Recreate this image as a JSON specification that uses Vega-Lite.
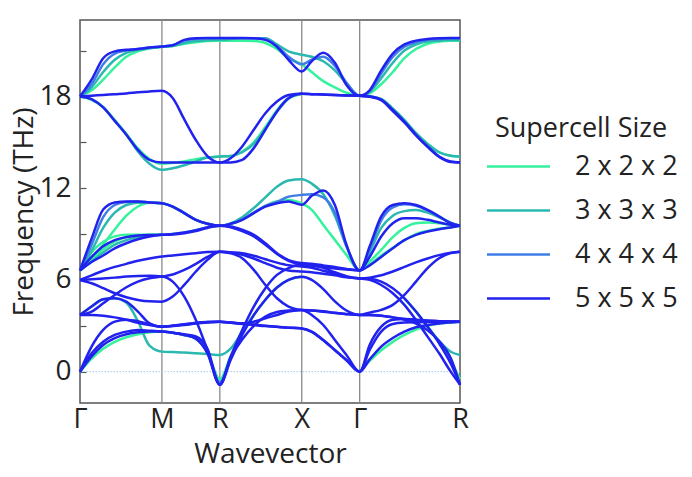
{
"$schema":"https://vega.github.io/schema/vega-lite/v6.json",
"width":380,"height":383,
"autosize":{"type":"none"},
"padding":{"left":80,"top":20,"right":232,"bottom":74},
"background":"white",
"config":{"font":"Open Sans","view":{"stroke":"#555","strokeWidth":1.5}},
"layer":[
{"data":{"values":[{"v":0.707},{"v":1.207},{"v":1.914},{"v":2.414}]},
"mark":{"type":"rule","color":"#8a8a8a","strokeWidth":1.3},
"encoding":{"x":{"field":"v","type":"quantitative","scale":{"domain":[0,3.28],"nice":false,"zero":false},
"axis":{"title":"Wavevector","values":[0,0.707,1.207,1.914,2.414,3.28],"labelExpr":"datum.value < 0.3 ? 'Γ' : datum.value < 1 ? 'M' : datum.value < 1.5 ? 'R' : datum.value < 2 ? 'X' : datum.value < 3 ? 'Γ' : 'R'","ticks":false,"domain":false,"grid":false,"labelFontSize":27,"labelFont":"Open Sans","labelColor":"#222","labelPadding":3,"labelFlush":false,"labelOverlap":false,"labelBound":false,"titleFontSize":28,"titleFont":"Open Sans","titleFontWeight":"normal","titleColor":"#222","titlePadding":8}}}},
{"data":{"values":[{}]},
"mark":{"type":"rule","color":"#9fcdf0","strokeDash":[1.5,1.5],"strokeWidth":1},
"encoding":{"y":{"datum":0,"type":"quantitative"}}},
{"data":{"values":[
{"s":"2","b":"T1","k":0,"f":18},{"s":"2","b":"T1","k":0.1,"f":18.4},{"s":"2","b":"T1","k":0.2,"f":19.1},{"s":"2","b":"T1","k":0.3,"f":19.9},{"s":"2","b":"T1","k":0.4,"f":20.6},{"s":"2","b":"T1","k":0.5,"f":20.95},{"s":"2","b":"T1","k":0.6,"f":21.15},{"s":"2","b":"T1","k":0.707,"f":21.25},{"s":"2","b":"T1","k":0.8,"f":21.3},{"s":"2","b":"T1","k":0.9,"f":21.45},{"s":"2","b":"T1","k":1,"f":21.55},{"s":"2","b":"T1","k":1.1,"f":21.62},{"s":"2","b":"T1","k":1.207,"f":21.65},{"s":"2","b":"T1","k":1.3,"f":21.65},{"s":"2","b":"T1","k":1.4,"f":21.65},{"s":"2","b":"T1","k":1.5,"f":21.62},{"s":"2","b":"T1","k":1.6,"f":21.5},{"s":"2","b":"T1","k":1.7,"f":21.1},{"s":"2","b":"T1","k":1.8,"f":20.5},{"s":"2","b":"T1","k":1.914,"f":20.1},{"s":"2","b":"T1","k":2,"f":19.6},{"s":"2","b":"T1","k":2.1,"f":19},{"s":"2","b":"T1","k":2.2,"f":18.6},{"s":"2","b":"T1","k":2.3,"f":18.25},{"s":"2","b":"T1","k":2.414,"f":18.04},{"s":"2","b":"T1","k":2.5,"f":18.2},{"s":"2","b":"T1","k":2.6,"f":18.8},{"s":"2","b":"T1","k":2.7,"f":19.6},{"s":"2","b":"T1","k":2.8,"f":20.5},{"s":"2","b":"T1","k":2.9,"f":21.1},{"s":"2","b":"T1","k":3,"f":21.45},{"s":"2","b":"T1","k":3.1,"f":21.6},{"s":"2","b":"T1","k":3.2,"f":21.65},{"s":"2","b":"T1","k":3.28,"f":21.65},
{"s":"2","b":"T3","k":0,"f":18},{"s":"2","b":"T3","k":0.1,"f":17.8},{"s":"2","b":"T3","k":0.2,"f":17.3},{"s":"2","b":"T3","k":0.3,"f":16.45},{"s":"2","b":"T3","k":0.4,"f":15.55},{"s":"2","b":"T3","k":0.5,"f":14.6},{"s":"2","b":"T3","k":0.6,"f":13.9},{"s":"2","b":"T3","k":0.707,"f":13.6},{"s":"2","b":"T3","k":0.8,"f":13.65},{"s":"2","b":"T3","k":0.9,"f":13.75},{"s":"2","b":"T3","k":1,"f":13.9},{"s":"2","b":"T3","k":1.1,"f":14},{"s":"2","b":"T3","k":1.207,"f":14.07},{"s":"2","b":"T3","k":1.3,"f":14.1},{"s":"2","b":"T3","k":1.4,"f":14.4},{"s":"2","b":"T3","k":1.5,"f":15},{"s":"2","b":"T3","k":1.6,"f":16},{"s":"2","b":"T3","k":1.7,"f":17.1},{"s":"2","b":"T3","k":1.8,"f":17.9},{"s":"2","b":"T3","k":1.914,"f":18.17},
{"s":"2","b":"T2","k":2.414,"f":18.04},{"s":"2","b":"T2","k":2.5,"f":18},{"s":"2","b":"T2","k":2.6,"f":17.82},{"s":"2","b":"T2","k":2.7,"f":17.2},{"s":"2","b":"T2","k":2.8,"f":16.45},{"s":"2","b":"T2","k":2.9,"f":15.6},{"s":"2","b":"T2","k":3,"f":14.9},{"s":"2","b":"T2","k":3.1,"f":14.35},{"s":"2","b":"T2","k":3.2,"f":14.12},{"s":"2","b":"T2","k":3.28,"f":14.07},
{"s":"2","b":"A","k":0,"f":6.62},{"s":"2","b":"A","k":0.1,"f":7.3},{"s":"2","b":"A","k":0.2,"f":8.3},{"s":"2","b":"A","k":0.3,"f":9.3},{"s":"2","b":"A","k":0.4,"f":10.2},{"s":"2","b":"A","k":0.5,"f":10.8},{"s":"2","b":"A","k":0.6,"f":11.05},{"s":"2","b":"A","k":0.707,"f":11.02},{"s":"2","b":"A","k":0.8,"f":10.8},{"s":"2","b":"A","k":0.9,"f":10.37},{"s":"2","b":"A","k":1,"f":9.93},{"s":"2","b":"A","k":1.1,"f":9.67},{"s":"2","b":"A","k":1.207,"f":9.54},{"s":"2","b":"A","k":1.3,"f":9.65},{"s":"2","b":"A","k":1.4,"f":9.95},{"s":"2","b":"A","k":1.5,"f":10.4},{"s":"2","b":"A","k":1.6,"f":10.85},{"s":"2","b":"A","k":1.7,"f":11.15},{"s":"2","b":"A","k":1.8,"f":11.23},{"s":"2","b":"A","k":1.914,"f":11},{"s":"2","b":"A","k":2,"f":10.58},{"s":"2","b":"A","k":2.1,"f":9.6},{"s":"2","b":"A","k":2.2,"f":8.62},{"s":"2","b":"A","k":2.3,"f":7.64},{"s":"2","b":"A","k":2.414,"f":6.62},{"s":"2","b":"A","k":2.5,"f":7.2},{"s":"2","b":"A","k":2.6,"f":7.96},{"s":"2","b":"A","k":2.7,"f":8.8},{"s":"2","b":"A","k":2.8,"f":9.4},{"s":"2","b":"A","k":2.9,"f":9.71},{"s":"2","b":"A","k":3,"f":9.75},{"s":"2","b":"A","k":3.1,"f":9.71},{"s":"2","b":"A","k":3.2,"f":9.6},{"s":"2","b":"A","k":3.28,"f":9.54},
{"s":"2","b":"B1","k":0,"f":6.62},{"s":"2","b":"B1","k":0.1,"f":7.8},{"s":"2","b":"B1","k":0.2,"f":8.5},{"s":"2","b":"B1","k":0.3,"f":8.85},{"s":"2","b":"B1","k":0.4,"f":8.95},{"s":"2","b":"B1","k":0.5,"f":8.95},{"s":"2","b":"B1","k":0.6,"f":8.95},{"s":"2","b":"B1","k":0.707,"f":8.95},{"s":"2","b":"B1","k":0.8,"f":9},{"s":"2","b":"B1","k":0.9,"f":9.1},{"s":"2","b":"B1","k":1,"f":9.25},{"s":"2","b":"B1","k":1.1,"f":9.45},{"s":"2","b":"B1","k":1.207,"f":9.54},
{"s":"2","b":"B2","k":0,"f":6.62},{"s":"2","b":"B2","k":0.1,"f":7.3},{"s":"2","b":"B2","k":0.2,"f":8},{"s":"2","b":"B2","k":0.3,"f":8.5},{"s":"2","b":"B2","k":0.4,"f":8.8},{"s":"2","b":"B2","k":0.5,"f":8.9},{"s":"2","b":"B2","k":0.6,"f":8.95},{"s":"2","b":"B2","k":0.707,"f":8.95},
{"s":"2","b":"B2b","k":2.414,"f":6.62},{"s":"2","b":"B2b","k":2.5,"f":7},{"s":"2","b":"B2b","k":2.6,"f":7.6},{"s":"2","b":"B2b","k":2.7,"f":8.1},{"s":"2","b":"B2b","k":2.8,"f":8.6},{"s":"2","b":"B2b","k":2.9,"f":9},{"s":"2","b":"B2b","k":3,"f":9.2},{"s":"2","b":"B2b","k":3.1,"f":9.35},{"s":"2","b":"B2b","k":3.2,"f":9.45},{"s":"2","b":"B2b","k":3.28,"f":9.54},
{"s":"2","b":"L2","k":0.707,"f":2.62},{"s":"2","b":"L2","k":0.8,"f":2.55},{"s":"2","b":"L2","k":0.9,"f":2.4},{"s":"2","b":"L2","k":1,"f":2.15},{"s":"2","b":"L2","k":1.1,"f":1.3},{"s":"2","b":"L2","k":1.207,"f":-0.5},{"s":"2","b":"L2","k":1.3,"f":1},{"s":"2","b":"L2","k":1.4,"f":2.5},{"s":"2","b":"L2","k":1.5,"f":3.7},
{"s":"2","b":"D1","k":2.8,"f":4.8},{"s":"2","b":"D1","k":2.9,"f":3.93},{"s":"2","b":"D1","k":3,"f":2.94},{"s":"2","b":"D1","k":3.1,"f":1.9},{"s":"2","b":"D1","k":3.2,"f":0.7},{"s":"2","b":"D1","k":3.28,"f":-0.5},
{"s":"2","b":"G","k":2.414,"f":0},{"s":"2","b":"G","k":2.5,"f":0.7},{"s":"2","b":"G","k":2.6,"f":1.4},{"s":"2","b":"G","k":2.7,"f":1.95},{"s":"2","b":"G","k":2.8,"f":2.4},{"s":"2","b":"G","k":2.9,"f":2.75},{"s":"2","b":"G","k":3,"f":3},{"s":"2","b":"G","k":3.1,"f":3.15},{"s":"2","b":"G","k":3.2,"f":3.22},{"s":"2","b":"G","k":3.28,"f":3.27},
{"s":"2","b":"L3","k":0,"f":0},{"s":"2","b":"L3","k":0.1,"f":0.85},{"s":"2","b":"L3","k":0.2,"f":1.5},{"s":"2","b":"L3","k":0.3,"f":1.95},{"s":"2","b":"L3","k":0.4,"f":2.25},{"s":"2","b":"L3","k":0.5,"f":2.45},{"s":"2","b":"L3","k":0.6,"f":2.58},{"s":"2","b":"L3","k":0.707,"f":2.62},
{"s":"3","b":"T1","k":0,"f":18},{"s":"3","b":"T1","k":0.1,"f":18.6},{"s":"3","b":"T1","k":0.2,"f":19.6},{"s":"3","b":"T1","k":0.3,"f":20.4},{"s":"3","b":"T1","k":0.4,"f":20.85},{"s":"3","b":"T1","k":0.5,"f":21.05},{"s":"3","b":"T1","k":0.6,"f":21.15},{"s":"3","b":"T1","k":0.707,"f":21.25},{"s":"3","b":"T1","k":0.8,"f":21.3},{"s":"3","b":"T1","k":0.9,"f":21.5},{"s":"3","b":"T1","k":1,"f":21.62},{"s":"3","b":"T1","k":1.1,"f":21.68},{"s":"3","b":"T1","k":1.207,"f":21.7},{"s":"3","b":"T1","k":1.3,"f":21.75},{"s":"3","b":"T1","k":1.4,"f":21.8},{"s":"3","b":"T1","k":1.5,"f":21.8},{"s":"3","b":"T1","k":1.6,"f":21.8},{"s":"3","b":"T1","k":1.7,"f":21.4},{"s":"3","b":"T1","k":1.8,"f":20.95},{"s":"3","b":"T1","k":1.914,"f":20.73},{"s":"3","b":"T1","k":2,"f":20.6},{"s":"3","b":"T1","k":2.1,"f":20.3},{"s":"3","b":"T1","k":2.2,"f":19.7},{"s":"3","b":"T1","k":2.3,"f":18.85},{"s":"3","b":"T1","k":2.414,"f":18.04},{"s":"3","b":"T1","k":2.5,"f":18.3},{"s":"3","b":"T1","k":2.6,"f":19.2},{"s":"3","b":"T1","k":2.7,"f":20.2},{"s":"3","b":"T1","k":2.8,"f":21},{"s":"3","b":"T1","k":2.9,"f":21.4},{"s":"3","b":"T1","k":3,"f":21.6},{"s":"3","b":"T1","k":3.1,"f":21.65},{"s":"3","b":"T1","k":3.2,"f":21.7},{"s":"3","b":"T1","k":3.28,"f":21.7},
{"s":"3","b":"T3","k":0,"f":18},{"s":"3","b":"T3","k":0.1,"f":17.8},{"s":"3","b":"T3","k":0.2,"f":17.3},{"s":"3","b":"T3","k":0.3,"f":16.4},{"s":"3","b":"T3","k":0.4,"f":15.5},{"s":"3","b":"T3","k":0.5,"f":14.4},{"s":"3","b":"T3","k":0.6,"f":13.6},{"s":"3","b":"T3","k":0.707,"f":13.2},{"s":"3","b":"T3","k":0.8,"f":13.3},{"s":"3","b":"T3","k":0.9,"f":13.5},{"s":"3","b":"T3","k":1,"f":13.75},{"s":"3","b":"T3","k":1.1,"f":14},{"s":"3","b":"T3","k":1.207,"f":14.07},{"s":"3","b":"T3","k":1.3,"f":14.1},{"s":"3","b":"T3","k":1.4,"f":14.35},{"s":"3","b":"T3","k":1.5,"f":14.9},{"s":"3","b":"T3","k":1.6,"f":15.9},{"s":"3","b":"T3","k":1.7,"f":17},{"s":"3","b":"T3","k":1.8,"f":17.85},{"s":"3","b":"T3","k":1.914,"f":18.17},
{"s":"3","b":"T2","k":2.414,"f":18.04},{"s":"3","b":"T2","k":2.5,"f":18},{"s":"3","b":"T2","k":2.6,"f":17.82},{"s":"3","b":"T2","k":2.7,"f":17.2},{"s":"3","b":"T2","k":2.8,"f":16.45},{"s":"3","b":"T2","k":2.9,"f":15.6},{"s":"3","b":"T2","k":3,"f":14.9},{"s":"3","b":"T2","k":3.1,"f":14.35},{"s":"3","b":"T2","k":3.2,"f":14.12},{"s":"3","b":"T2","k":3.28,"f":14.07},
{"s":"3","b":"A","k":0,"f":6.62},{"s":"3","b":"A","k":0.1,"f":7.9},{"s":"3","b":"A","k":0.2,"f":9.4},{"s":"3","b":"A","k":0.3,"f":10.4},{"s":"3","b":"A","k":0.4,"f":10.9},{"s":"3","b":"A","k":0.5,"f":11.05},{"s":"3","b":"A","k":0.6,"f":11.07},{"s":"3","b":"A","k":0.707,"f":11.02},{"s":"3","b":"A","k":0.8,"f":10.8},{"s":"3","b":"A","k":0.9,"f":10.37},{"s":"3","b":"A","k":1,"f":9.93},{"s":"3","b":"A","k":1.1,"f":9.67},{"s":"3","b":"A","k":1.207,"f":9.54},{"s":"3","b":"A","k":1.3,"f":9.7},{"s":"3","b":"A","k":1.4,"f":10.1},{"s":"3","b":"A","k":1.5,"f":10.7},{"s":"3","b":"A","k":1.6,"f":11.4},{"s":"3","b":"A","k":1.7,"f":12.1},{"s":"3","b":"A","k":1.8,"f":12.5},{"s":"3","b":"A","k":1.914,"f":12.59},{"s":"3","b":"A","k":2,"f":12.3},{"s":"3","b":"A","k":2.1,"f":11.6},{"s":"3","b":"A","k":2.2,"f":10.2},{"s":"3","b":"A","k":2.3,"f":8.2},{"s":"3","b":"A","k":2.414,"f":6.62},{"s":"3","b":"A","k":2.5,"f":7.8},{"s":"3","b":"A","k":2.6,"f":9.4},{"s":"3","b":"A","k":2.7,"f":10.2},{"s":"3","b":"A","k":2.8,"f":10.5},{"s":"3","b":"A","k":2.9,"f":10.58},{"s":"3","b":"A","k":3,"f":10.4},{"s":"3","b":"A","k":3.1,"f":10.1},{"s":"3","b":"A","k":3.2,"f":9.75},{"s":"3","b":"A","k":3.28,"f":9.54},
{"s":"3","b":"F","k":0,"f":3.71},{"s":"3","b":"F","k":0.1,"f":4.26},{"s":"3","b":"F","k":0.2,"f":4.73},{"s":"3","b":"F","k":0.3,"f":4.8},{"s":"3","b":"F","k":0.4,"f":4.5},{"s":"3","b":"F","k":0.5,"f":3.3},{"s":"3","b":"F","k":0.6,"f":1.7},{"s":"3","b":"F","k":0.707,"f":1.31},{"s":"3","b":"F","k":0.8,"f":1.28},{"s":"3","b":"F","k":0.9,"f":1.25},{"s":"3","b":"F","k":1,"f":1.2},{"s":"3","b":"F","k":1.1,"f":1.15},{"s":"3","b":"F","k":1.207,"f":1.09},{"s":"3","b":"F","k":1.3,"f":1.5},{"s":"3","b":"F","k":1.4,"f":2.6},{"s":"3","b":"F","k":1.5,"f":3.7},{"s":"3","b":"F","k":1.6,"f":4.7},{"s":"3","b":"F","k":1.7,"f":5.5},{"s":"3","b":"F","k":1.8,"f":6},{"s":"3","b":"F","k":1.914,"f":6.2},
{"s":"3","b":"D1","k":2.9,"f":3.93},{"s":"3","b":"D1","k":3,"f":2.94},{"s":"3","b":"D1","k":3.1,"f":2},{"s":"3","b":"D1","k":3.2,"f":1.3},{"s":"3","b":"D1","k":3.28,"f":1.09},
{"s":"3","b":"B1","k":0,"f":6.62},{"s":"3","b":"B1","k":0.1,"f":7.2},{"s":"3","b":"B1","k":0.2,"f":7.8},{"s":"3","b":"B1","k":0.3,"f":8.3},{"s":"3","b":"B1","k":0.4,"f":8.6},{"s":"3","b":"B1","k":0.5,"f":8.8},{"s":"3","b":"B1","k":0.6,"f":8.9},{"s":"3","b":"B1","k":0.707,"f":8.95},
{"s":"4","b":"T1","k":0,"f":18},{"s":"4","b":"T1","k":0.1,"f":18.8},{"s":"4","b":"T1","k":0.2,"f":20.1},{"s":"4","b":"T1","k":0.3,"f":20.8},{"s":"4","b":"T1","k":0.4,"f":21},{"s":"4","b":"T1","k":0.5,"f":21.1},{"s":"4","b":"T1","k":0.6,"f":21.2},{"s":"4","b":"T1","k":0.707,"f":21.27},{"s":"4","b":"T1","k":0.8,"f":21.35},{"s":"4","b":"T1","k":0.9,"f":21.65},{"s":"4","b":"T1","k":1,"f":21.78},{"s":"4","b":"T1","k":1.1,"f":21.8},{"s":"4","b":"T1","k":1.207,"f":21.8},{"s":"4","b":"T1","k":1.3,"f":21.8},{"s":"4","b":"T1","k":1.4,"f":21.8},{"s":"4","b":"T1","k":1.5,"f":21.8},{"s":"4","b":"T1","k":1.6,"f":21.75},{"s":"4","b":"T1","k":1.7,"f":21.3},{"s":"4","b":"T1","k":1.8,"f":20.6},{"s":"4","b":"T1","k":1.914,"f":20.1},{"s":"4","b":"T1","k":2,"f":20.4},{"s":"4","b":"T1","k":2.1,"f":20.6},{"s":"4","b":"T1","k":2.2,"f":20},{"s":"4","b":"T1","k":2.3,"f":18.9},{"s":"4","b":"T1","k":2.414,"f":18.04},{"s":"4","b":"T1","k":2.5,"f":18.35},{"s":"4","b":"T1","k":2.6,"f":19.5},{"s":"4","b":"T1","k":2.7,"f":20.6},{"s":"4","b":"T1","k":2.8,"f":21.25},{"s":"4","b":"T1","k":2.9,"f":21.55},{"s":"4","b":"T1","k":3,"f":21.7},{"s":"4","b":"T1","k":3.1,"f":21.75},{"s":"4","b":"T1","k":3.2,"f":21.8},{"s":"4","b":"T1","k":3.28,"f":21.8},
{"s":"4","b":"A","k":0,"f":6.62},{"s":"4","b":"A","k":0.1,"f":8.3},{"s":"4","b":"A","k":0.2,"f":10.1},{"s":"4","b":"A","k":0.3,"f":10.9},{"s":"4","b":"A","k":0.4,"f":11.1},{"s":"4","b":"A","k":0.5,"f":11.13},{"s":"4","b":"A","k":0.6,"f":11.07},{"s":"4","b":"A","k":0.707,"f":11.02},{"s":"4","b":"A","k":0.8,"f":10.8},{"s":"4","b":"A","k":0.9,"f":10.37},{"s":"4","b":"A","k":1,"f":9.93},{"s":"4","b":"A","k":1.1,"f":9.67},{"s":"4","b":"A","k":1.207,"f":9.54},{"s":"4","b":"A","k":1.3,"f":9.67},{"s":"4","b":"A","k":1.4,"f":9.95},{"s":"4","b":"A","k":1.5,"f":10.4},{"s":"4","b":"A","k":1.6,"f":10.85},{"s":"4","b":"A","k":1.7,"f":11.1},{"s":"4","b":"A","k":1.8,"f":11.45},{"s":"4","b":"A","k":1.914,"f":11.56},{"s":"4","b":"A","k":2,"f":11.6},{"s":"4","b":"A","k":2.1,"f":11.4},{"s":"4","b":"A","k":2.2,"f":10.4},{"s":"4","b":"A","k":2.3,"f":8.2},{"s":"4","b":"A","k":2.414,"f":6.62},{"s":"4","b":"A","k":2.5,"f":8},{"s":"4","b":"A","k":2.6,"f":9.9},{"s":"4","b":"A","k":2.7,"f":10.75},{"s":"4","b":"A","k":2.8,"f":10.95},{"s":"4","b":"A","k":2.9,"f":10.85},{"s":"4","b":"A","k":3,"f":10.55},{"s":"4","b":"A","k":3.1,"f":10.15},{"s":"4","b":"A","k":3.2,"f":9.72},{"s":"4","b":"A","k":3.28,"f":9.54},
{"s":"4","b":"L2","k":0.8,"f":2.55},{"s":"4","b":"L2","k":0.9,"f":2.4},{"s":"4","b":"L2","k":1,"f":2.15},{"s":"4","b":"L2","k":1.1,"f":1.25},{"s":"4","b":"L2","k":1.207,"f":-0.7},{"s":"4","b":"L2","k":1.3,"f":0.85},{"s":"4","b":"L2","k":1.4,"f":2.45},
{"s":"5","b":"T1","k":0,"f":18},{"s":"5","b":"T1","k":0.1,"f":19.1},{"s":"5","b":"T1","k":0.2,"f":20.5},{"s":"5","b":"T1","k":0.3,"f":20.95},{"s":"5","b":"T1","k":0.4,"f":21.05},{"s":"5","b":"T1","k":0.5,"f":21.1},{"s":"5","b":"T1","k":0.6,"f":21.2},{"s":"5","b":"T1","k":0.707,"f":21.27},{"s":"5","b":"T1","k":0.8,"f":21.35},{"s":"5","b":"T1","k":0.9,"f":21.7},{"s":"5","b":"T1","k":1,"f":21.8},{"s":"5","b":"T1","k":1.1,"f":21.82},{"s":"5","b":"T1","k":1.207,"f":21.82},{"s":"5","b":"T1","k":1.3,"f":21.82},{"s":"5","b":"T1","k":1.4,"f":21.82},{"s":"5","b":"T1","k":1.5,"f":21.8},{"s":"5","b":"T1","k":1.6,"f":21.7},{"s":"5","b":"T1","k":1.7,"f":21.25},{"s":"5","b":"T1","k":1.8,"f":20.4},{"s":"5","b":"T1","k":1.914,"f":19.63},{"s":"5","b":"T1","k":2,"f":20.3},{"s":"5","b":"T1","k":2.1,"f":20.85},{"s":"5","b":"T1","k":2.2,"f":20.2},{"s":"5","b":"T1","k":2.3,"f":18.75},{"s":"5","b":"T1","k":2.414,"f":18.04},{"s":"5","b":"T1","k":2.5,"f":18.4},{"s":"5","b":"T1","k":2.6,"f":19.7},{"s":"5","b":"T1","k":2.7,"f":20.8},{"s":"5","b":"T1","k":2.8,"f":21.4},{"s":"5","b":"T1","k":2.9,"f":21.65},{"s":"5","b":"T1","k":3,"f":21.75},{"s":"5","b":"T1","k":3.1,"f":21.8},{"s":"5","b":"T1","k":3.2,"f":21.82},{"s":"5","b":"T1","k":3.28,"f":21.82},
{"s":"5","b":"T2","k":0,"f":18},{"s":"5","b":"T2","k":0.1,"f":18.05},{"s":"5","b":"T2","k":0.2,"f":18.1},{"s":"5","b":"T2","k":0.3,"f":18.15},{"s":"5","b":"T2","k":0.4,"f":18.2},{"s":"5","b":"T2","k":0.5,"f":18.27},{"s":"5","b":"T2","k":0.6,"f":18.33},{"s":"5","b":"T2","k":0.707,"f":18.37},{"s":"5","b":"T2","k":0.8,"f":17.9},{"s":"5","b":"T2","k":0.9,"f":16.5},{"s":"5","b":"T2","k":1,"f":15.15},{"s":"5","b":"T2","k":1.1,"f":14.1},{"s":"5","b":"T2","k":1.207,"f":13.68},{"s":"5","b":"T2","k":1.3,"f":13.96},{"s":"5","b":"T2","k":1.4,"f":14.73},{"s":"5","b":"T2","k":1.5,"f":15.82},{"s":"5","b":"T2","k":1.6,"f":16.9},{"s":"5","b":"T2","k":1.7,"f":17.67},{"s":"5","b":"T2","k":1.8,"f":18.1},{"s":"5","b":"T2","k":1.914,"f":18.17},{"s":"5","b":"T2","k":2,"f":18.15},{"s":"5","b":"T2","k":2.1,"f":18.12},{"s":"5","b":"T2","k":2.2,"f":18.1},{"s":"5","b":"T2","k":2.3,"f":18.07},{"s":"5","b":"T2","k":2.414,"f":18.04},{"s":"5","b":"T2","k":2.5,"f":18},{"s":"5","b":"T2","k":2.6,"f":17.8},{"s":"5","b":"T2","k":2.7,"f":17.12},{"s":"5","b":"T2","k":2.8,"f":16.36},{"s":"5","b":"T2","k":2.9,"f":15.49},{"s":"5","b":"T2","k":3,"f":14.73},{"s":"5","b":"T2","k":3.1,"f":14.07},{"s":"5","b":"T2","k":3.2,"f":13.74},{"s":"5","b":"T2","k":3.28,"f":13.68},
{"s":"5","b":"T3","k":0,"f":18},{"s":"5","b":"T3","k":0.1,"f":17.82},{"s":"5","b":"T3","k":0.2,"f":17.28},{"s":"5","b":"T3","k":0.3,"f":16.4},{"s":"5","b":"T3","k":0.4,"f":15.5},{"s":"5","b":"T3","k":0.5,"f":14.5},{"s":"5","b":"T3","k":0.6,"f":13.85},{"s":"5","b":"T3","k":0.707,"f":13.68},{"s":"5","b":"T3","k":0.8,"f":13.68},{"s":"5","b":"T3","k":0.9,"f":13.68},{"s":"5","b":"T3","k":1,"f":13.68},{"s":"5","b":"T3","k":1.1,"f":13.68},{"s":"5","b":"T3","k":1.207,"f":13.68},{"s":"5","b":"T3","k":1.3,"f":13.68},{"s":"5","b":"T3","k":1.4,"f":13.85},{"s":"5","b":"T3","k":1.5,"f":14.62},{"s":"5","b":"T3","k":1.6,"f":15.82},{"s":"5","b":"T3","k":1.7,"f":17.02},{"s":"5","b":"T3","k":1.8,"f":17.89},{"s":"5","b":"T3","k":1.914,"f":18.17},{"s":"5","b":"T3","k":2,"f":18.15},{"s":"5","b":"T3","k":2.1,"f":18.12},{"s":"5","b":"T3","k":2.2,"f":18.1},{"s":"5","b":"T3","k":2.3,"f":18.07},{"s":"5","b":"T3","k":2.414,"f":18.04},{"s":"5","b":"T3","k":2.5,"f":17.98},{"s":"5","b":"T3","k":2.6,"f":17.75},{"s":"5","b":"T3","k":2.7,"f":17.05},{"s":"5","b":"T3","k":2.8,"f":16.3},{"s":"5","b":"T3","k":2.9,"f":15.45},{"s":"5","b":"T3","k":3,"f":14.7},{"s":"5","b":"T3","k":3.1,"f":14.05},{"s":"5","b":"T3","k":3.2,"f":13.72},{"s":"5","b":"T3","k":3.28,"f":13.68},
{"s":"5","b":"A","k":0,"f":6.62},{"s":"5","b":"A","k":0.1,"f":8.7},{"s":"5","b":"A","k":0.2,"f":10.6},{"s":"5","b":"A","k":0.3,"f":11.07},{"s":"5","b":"A","k":0.4,"f":11.13},{"s":"5","b":"A","k":0.5,"f":11.13},{"s":"5","b":"A","k":0.6,"f":11.07},{"s":"5","b":"A","k":0.707,"f":11.02},{"s":"5","b":"A","k":0.8,"f":10.8},{"s":"5","b":"A","k":0.9,"f":10.37},{"s":"5","b":"A","k":1,"f":9.93},{"s":"5","b":"A","k":1.1,"f":9.67},{"s":"5","b":"A","k":1.207,"f":9.54},{"s":"5","b":"A","k":1.3,"f":9.67},{"s":"5","b":"A","k":1.4,"f":9.93},{"s":"5","b":"A","k":1.5,"f":10.37},{"s":"5","b":"A","k":1.6,"f":10.8},{"s":"5","b":"A","k":1.7,"f":11.02},{"s":"5","b":"A","k":1.8,"f":11.13},{"s":"5","b":"A","k":1.914,"f":10.91},{"s":"5","b":"A","k":2,"f":11.5},{"s":"5","b":"A","k":2.1,"f":11.85},{"s":"5","b":"A","k":2.2,"f":10.9},{"s":"5","b":"A","k":2.3,"f":8.3},{"s":"5","b":"A","k":2.414,"f":6.62},{"s":"5","b":"A","k":2.5,"f":8.18},{"s":"5","b":"A","k":2.6,"f":10.15},{"s":"5","b":"A","k":2.7,"f":10.9},{"s":"5","b":"A","k":2.8,"f":11.02},{"s":"5","b":"A","k":2.9,"f":10.9},{"s":"5","b":"A","k":3,"f":10.58},{"s":"5","b":"A","k":3.1,"f":10.15},{"s":"5","b":"A","k":3.2,"f":9.71},{"s":"5","b":"A","k":3.28,"f":9.54},
{"s":"5","b":"B1","k":0,"f":6.62},{"s":"5","b":"B1","k":0.1,"f":7.17},{"s":"5","b":"B1","k":0.2,"f":7.6},{"s":"5","b":"B1","k":0.3,"f":8.07},{"s":"5","b":"B1","k":0.4,"f":8.4},{"s":"5","b":"B1","k":0.5,"f":8.66},{"s":"5","b":"B1","k":0.6,"f":8.84},{"s":"5","b":"B1","k":0.707,"f":8.95},{"s":"5","b":"B1","k":0.8,"f":9},{"s":"5","b":"B1","k":0.9,"f":9.1},{"s":"5","b":"B1","k":1,"f":9.25},{"s":"5","b":"B1","k":1.1,"f":9.45},{"s":"5","b":"B1","k":1.207,"f":9.54},{"s":"5","b":"B1","k":1.3,"f":9.5},{"s":"5","b":"B1","k":1.4,"f":9.28},{"s":"5","b":"B1","k":1.5,"f":8.95},{"s":"5","b":"B1","k":1.6,"f":8.4},{"s":"5","b":"B1","k":1.7,"f":7.75},{"s":"5","b":"B1","k":1.8,"f":7.3},{"s":"5","b":"B1","k":1.914,"f":7.1},{"s":"5","b":"B1","k":2,"f":7.05},{"s":"5","b":"B1","k":2.1,"f":6.95},{"s":"5","b":"B1","k":2.2,"f":6.85},{"s":"5","b":"B1","k":2.3,"f":6.72},{"s":"5","b":"B1","k":2.414,"f":6.62},{"s":"5","b":"B1","k":2.5,"f":6.95},{"s":"5","b":"B1","k":2.6,"f":7.5},{"s":"5","b":"B1","k":2.7,"f":8.07},{"s":"5","b":"B1","k":2.8,"f":8.6},{"s":"5","b":"B1","k":2.9,"f":8.95},{"s":"5","b":"B1","k":3,"f":9.17},{"s":"5","b":"B1","k":3.1,"f":9.32},{"s":"5","b":"B1","k":3.2,"f":9.43},{"s":"5","b":"B1","k":3.28,"f":9.54},
{"s":"5","b":"B2","k":0,"f":6.62},{"s":"5","b":"B2","k":0.1,"f":7.5},{"s":"5","b":"B2","k":0.2,"f":8.2},{"s":"5","b":"B2","k":0.3,"f":8.6},{"s":"5","b":"B2","k":0.4,"f":8.8},{"s":"5","b":"B2","k":0.5,"f":8.9},{"s":"5","b":"B2","k":0.6,"f":8.94},{"s":"5","b":"B2","k":0.707,"f":8.95},{"s":"5","b":"B2","k":0.8,"f":8.97},{"s":"5","b":"B2","k":0.9,"f":9.05},{"s":"5","b":"B2","k":1,"f":9.2},{"s":"5","b":"B2","k":1.1,"f":9.4},{"s":"5","b":"B2","k":1.207,"f":9.54},{"s":"5","b":"B2","k":1.3,"f":9.45},{"s":"5","b":"B2","k":1.4,"f":9.2},{"s":"5","b":"B2","k":1.5,"f":8.85},{"s":"5","b":"B2","k":1.6,"f":8.3},{"s":"5","b":"B2","k":1.7,"f":7.7},{"s":"5","b":"B2","k":1.8,"f":7.25},{"s":"5","b":"B2","k":1.914,"f":7},{"s":"5","b":"B2","k":2,"f":6.95},{"s":"5","b":"B2","k":2.1,"f":6.85},{"s":"5","b":"B2","k":2.2,"f":6.75},{"s":"5","b":"B2","k":2.3,"f":6.68},{"s":"5","b":"B2","k":2.414,"f":6.62},{"s":"5","b":"B2","k":2.5,"f":7.5},{"s":"5","b":"B2","k":2.6,"f":8.84},{"s":"5","b":"B2","k":2.7,"f":9.71},{"s":"5","b":"B2","k":2.8,"f":10.04},{"s":"5","b":"B2","k":2.9,"f":10.04},{"s":"5","b":"B2","k":3,"f":9.93},{"s":"5","b":"B2","k":3.1,"f":9.76},{"s":"5","b":"B2","k":3.2,"f":9.6},{"s":"5","b":"B2","k":3.28,"f":9.54},
{"s":"5","b":"C","k":0,"f":6},{"s":"5","b":"C","k":0.1,"f":6.3},{"s":"5","b":"C","k":0.2,"f":6.6},{"s":"5","b":"C","k":0.3,"f":6.85},{"s":"5","b":"C","k":0.4,"f":7.05},{"s":"5","b":"C","k":0.5,"f":7.25},{"s":"5","b":"C","k":0.6,"f":7.4},{"s":"5","b":"C","k":0.707,"f":7.53},{"s":"5","b":"C","k":0.8,"f":7.6},{"s":"5","b":"C","k":0.9,"f":7.68},{"s":"5","b":"C","k":1,"f":7.75},{"s":"5","b":"C","k":1.1,"f":7.82},{"s":"5","b":"C","k":1.207,"f":7.85},{"s":"5","b":"C","k":1.3,"f":7.8},{"s":"5","b":"C","k":1.4,"f":7.75},{"s":"5","b":"C","k":1.5,"f":7.58},{"s":"5","b":"C","k":1.6,"f":7.35},{"s":"5","b":"C","k":1.7,"f":7.13},{"s":"5","b":"C","k":1.8,"f":6.96},{"s":"5","b":"C","k":1.914,"f":6.88},{"s":"5","b":"C","k":2,"f":6.8},{"s":"5","b":"C","k":2.1,"f":6.6},{"s":"5","b":"C","k":2.2,"f":6.4},{"s":"5","b":"C","k":2.3,"f":6.2},{"s":"5","b":"C","k":2.414,"f":6.1},{"s":"5","b":"C","k":2.5,"f":6.15},{"s":"5","b":"C","k":2.6,"f":6.3},{"s":"5","b":"C","k":2.7,"f":6.55},{"s":"5","b":"C","k":2.8,"f":6.85},{"s":"5","b":"C","k":2.9,"f":7.15},{"s":"5","b":"C","k":3,"f":7.4},{"s":"5","b":"C","k":3.1,"f":7.62},{"s":"5","b":"C","k":3.2,"f":7.78},{"s":"5","b":"C","k":3.28,"f":7.85},
{"s":"5","b":"D1","k":0,"f":6},{"s":"5","b":"D1","k":0.1,"f":6.04},{"s":"5","b":"D1","k":0.2,"f":6.09},{"s":"5","b":"D1","k":0.3,"f":6.15},{"s":"5","b":"D1","k":0.4,"f":6.22},{"s":"5","b":"D1","k":0.5,"f":6.26},{"s":"5","b":"D1","k":0.6,"f":6.27},{"s":"5","b":"D1","k":0.707,"f":6.22},{"s":"5","b":"D1","k":0.8,"f":5.89},{"s":"5","b":"D1","k":0.9,"f":4.91},{"s":"5","b":"D1","k":1,"f":3.38},{"s":"5","b":"D1","k":1.1,"f":1.42},{"s":"5","b":"D1","k":1.207,"f":-0.85},{"s":"5","b":"D1","k":1.3,"f":0.98},{"s":"5","b":"D1","k":1.4,"f":2.73},{"s":"5","b":"D1","k":1.5,"f":4.26},{"s":"5","b":"D1","k":1.6,"f":5.46},{"s":"5","b":"D1","k":1.7,"f":6.33},{"s":"5","b":"D1","k":1.8,"f":6.77},{"s":"5","b":"D1","k":1.914,"f":6.99},{"s":"5","b":"D1","k":2,"f":6.95},{"s":"5","b":"D1","k":2.1,"f":6.8},{"s":"5","b":"D1","k":2.2,"f":6.5},{"s":"5","b":"D1","k":2.3,"f":6.25},{"s":"5","b":"D1","k":2.414,"f":6.1},{"s":"5","b":"D1","k":2.5,"f":6.07},{"s":"5","b":"D1","k":2.6,"f":5.89},{"s":"5","b":"D1","k":2.7,"f":5.46},{"s":"5","b":"D1","k":2.8,"f":4.8},{"s":"5","b":"D1","k":2.9,"f":3.93},{"s":"5","b":"D1","k":3,"f":2.94},{"s":"5","b":"D1","k":3.1,"f":1.85},{"s":"5","b":"D1","k":3.2,"f":0.54},{"s":"5","b":"D1","k":3.28,"f":-0.85},
{"s":"5","b":"D2","k":0,"f":6},{"s":"5","b":"D2","k":0.1,"f":5.78},{"s":"5","b":"D2","k":0.2,"f":5.46},{"s":"5","b":"D2","k":0.3,"f":5.13},{"s":"5","b":"D2","k":0.4,"f":4.87},{"s":"5","b":"D2","k":0.5,"f":4.69},{"s":"5","b":"D2","k":0.6,"f":4.6},{"s":"5","b":"D2","k":0.707,"f":4.58},{"s":"5","b":"D2","k":0.8,"f":4.91},{"s":"5","b":"D2","k":0.9,"f":5.67},{"s":"5","b":"D2","k":1,"f":6.55},{"s":"5","b":"D2","k":1.1,"f":7.31},{"s":"5","b":"D2","k":1.207,"f":7.85},{"s":"5","b":"D2","k":1.3,"f":7.74},{"s":"5","b":"D2","k":1.4,"f":7.42},{"s":"5","b":"D2","k":1.5,"f":6.66},{"s":"5","b":"D2","k":1.6,"f":5.67},{"s":"5","b":"D2","k":1.7,"f":4.8},{"s":"5","b":"D2","k":1.8,"f":4.26},{"s":"5","b":"D2","k":1.914,"f":4.04},{"s":"5","b":"D2","k":2,"f":4},{"s":"5","b":"D2","k":2.1,"f":3.92},{"s":"5","b":"D2","k":2.2,"f":3.83},{"s":"5","b":"D2","k":2.3,"f":3.76},{"s":"5","b":"D2","k":2.414,"f":3.71},{"s":"5","b":"D2","k":2.5,"f":3.86},{"s":"5","b":"D2","k":2.6,"f":4.04},{"s":"5","b":"D2","k":2.7,"f":4.37},{"s":"5","b":"D2","k":2.8,"f":5.02},{"s":"5","b":"D2","k":2.9,"f":5.89},{"s":"5","b":"D2","k":3,"f":6.77},{"s":"5","b":"D2","k":3.1,"f":7.42},{"s":"5","b":"D2","k":3.2,"f":7.75},{"s":"5","b":"D2","k":3.28,"f":7.85},
{"s":"5","b":"E","k":0,"f":3.71},{"s":"5","b":"E","k":0.1,"f":3.93},{"s":"5","b":"E","k":0.2,"f":4.47},{"s":"5","b":"E","k":0.3,"f":5.02},{"s":"5","b":"E","k":0.4,"f":5.52},{"s":"5","b":"E","k":0.5,"f":5.89},{"s":"5","b":"E","k":0.6,"f":6.11},{"s":"5","b":"E","k":0.707,"f":6.22},{"s":"5","b":"E","k":0.8,"f":6.35},{"s":"5","b":"E","k":0.9,"f":6.65},{"s":"5","b":"E","k":1,"f":7.05},{"s":"5","b":"E","k":1.1,"f":7.5},{"s":"5","b":"E","k":1.207,"f":7.85},{"s":"5","b":"E","k":1.3,"f":7.8},{"s":"5","b":"E","k":1.4,"f":7.65},{"s":"5","b":"E","k":1.5,"f":7.4},{"s":"5","b":"E","k":1.6,"f":7.1},{"s":"5","b":"E","k":1.7,"f":6.8},{"s":"5","b":"E","k":1.8,"f":6.62},{"s":"5","b":"E","k":1.914,"f":6.55},{"s":"5","b":"E","k":2,"f":6.5},{"s":"5","b":"E","k":2.1,"f":6.4},{"s":"5","b":"E","k":2.2,"f":6.3},{"s":"5","b":"E","k":2.3,"f":6.18},{"s":"5","b":"E","k":2.414,"f":6.1},{"s":"5","b":"E","k":2.5,"f":6},{"s":"5","b":"E","k":2.6,"f":5.67},{"s":"5","b":"E","k":2.7,"f":5.13},{"s":"5","b":"E","k":2.8,"f":4.37},{"s":"5","b":"E","k":2.9,"f":3.38},{"s":"5","b":"E","k":3,"f":2.29},{"s":"5","b":"E","k":3.1,"f":1.2},{"s":"5","b":"E","k":3.2,"f":0},{"s":"5","b":"E","k":3.28,"f":-0.85},
{"s":"5","b":"F","k":0,"f":3.71},{"s":"5","b":"F","k":0.1,"f":4.26},{"s":"5","b":"F","k":0.2,"f":4.73},{"s":"5","b":"F","k":0.3,"f":4.8},{"s":"5","b":"F","k":0.4,"f":4.58},{"s":"5","b":"F","k":0.5,"f":3.93},{"s":"5","b":"F","k":0.6,"f":3.16},{"s":"5","b":"F","k":0.707,"f":2.94},{"s":"5","b":"F","k":0.8,"f":2.99},{"s":"5","b":"F","k":0.9,"f":3.05},{"s":"5","b":"F","k":1,"f":3.15},{"s":"5","b":"F","k":1.1,"f":3.22},{"s":"5","b":"F","k":1.207,"f":3.27},{"s":"5","b":"F","k":1.3,"f":3.2},{"s":"5","b":"F","k":1.4,"f":3.12},{"s":"5","b":"F","k":1.5,"f":3.05},{"s":"5","b":"F","k":1.6,"f":2.98},{"s":"5","b":"F","k":1.7,"f":2.94},{"s":"5","b":"F","k":1.8,"f":2.88},{"s":"5","b":"F","k":1.914,"f":2.83},{"s":"5","b":"F","k":2,"f":2.62},{"s":"5","b":"F","k":2.1,"f":2.07},{"s":"5","b":"F","k":2.2,"f":1.42},{"s":"5","b":"F","k":2.3,"f":0.76},{"s":"5","b":"F","k":2.414,"f":0},{"s":"5","b":"F","k":2.5,"f":1.42},{"s":"5","b":"F","k":2.6,"f":2.62},{"s":"5","b":"F","k":2.7,"f":3.12},{"s":"5","b":"F","k":2.8,"f":3.21},{"s":"5","b":"F","k":2.9,"f":3.23},{"s":"5","b":"F","k":3,"f":3.25},{"s":"5","b":"F","k":3.1,"f":3.27},{"s":"5","b":"F","k":3.2,"f":3.27},{"s":"5","b":"F","k":3.28,"f":3.27},
{"s":"5","b":"G","k":0,"f":3.71},{"s":"5","b":"G","k":0.1,"f":3.7},{"s":"5","b":"G","k":0.2,"f":3.65},{"s":"5","b":"G","k":0.3,"f":3.55},{"s":"5","b":"G","k":0.4,"f":3.4},{"s":"5","b":"G","k":0.5,"f":3.2},{"s":"5","b":"G","k":0.6,"f":3.05},{"s":"5","b":"G","k":0.707,"f":2.94},{"s":"5","b":"G","k":0.8,"f":3},{"s":"5","b":"G","k":0.9,"f":3.08},{"s":"5","b":"G","k":1,"f":3.17},{"s":"5","b":"G","k":1.1,"f":3.24},{"s":"5","b":"G","k":1.207,"f":3.27},{"s":"5","b":"G","k":1.3,"f":3.2},{"s":"5","b":"G","k":1.4,"f":3.16},{"s":"5","b":"G","k":1.5,"f":3.27},{"s":"5","b":"G","k":1.6,"f":3.49},{"s":"5","b":"G","k":1.7,"f":3.71},{"s":"5","b":"G","k":1.8,"f":3.93},{"s":"5","b":"G","k":1.914,"f":4.04},{"s":"5","b":"G","k":2,"f":3.71},{"s":"5","b":"G","k":2.1,"f":3.05},{"s":"5","b":"G","k":2.2,"f":2.07},{"s":"5","b":"G","k":2.3,"f":1.09},{"s":"5","b":"G","k":2.414,"f":0},{"s":"5","b":"G","k":2.5,"f":0.8},{"s":"5","b":"G","k":2.6,"f":1.64},{"s":"5","b":"G","k":2.7,"f":2.2},{"s":"5","b":"G","k":2.8,"f":2.62},{"s":"5","b":"G","k":2.9,"f":2.9},{"s":"5","b":"G","k":3,"f":3.05},{"s":"5","b":"G","k":3.1,"f":3.15},{"s":"5","b":"G","k":3.2,"f":3.22},{"s":"5","b":"G","k":3.28,"f":3.27},
{"s":"5","b":"L1","k":0,"f":0},{"s":"5","b":"L1","k":0.1,"f":1.64},{"s":"5","b":"L1","k":0.2,"f":2.73},{"s":"5","b":"L1","k":0.3,"f":3.27},{"s":"5","b":"L1","k":0.4,"f":3.4},{"s":"5","b":"L1","k":0.5,"f":3.3},{"s":"5","b":"L1","k":0.6,"f":3.1},{"s":"5","b":"L1","k":0.707,"f":2.94},{"s":"5","b":"L1","k":0.8,"f":3},{"s":"5","b":"L1","k":0.9,"f":3.1},{"s":"5","b":"L1","k":1,"f":3.2},{"s":"5","b":"L1","k":1.1,"f":3.25},{"s":"5","b":"L1","k":1.207,"f":3.27},{"s":"5","b":"L1","k":1.3,"f":3.22},{"s":"5","b":"L1","k":1.4,"f":3.15},{"s":"5","b":"L1","k":1.5,"f":3.08},{"s":"5","b":"L1","k":1.6,"f":3},{"s":"5","b":"L1","k":1.7,"f":2.93},{"s":"5","b":"L1","k":1.8,"f":2.87},{"s":"5","b":"L1","k":1.914,"f":2.83},{"s":"5","b":"L1","k":2,"f":2.6},{"s":"5","b":"L1","k":2.1,"f":2.05},{"s":"5","b":"L1","k":2.2,"f":1.4},{"s":"5","b":"L1","k":2.3,"f":0.75},{"s":"5","b":"L1","k":2.414,"f":0},{"s":"5","b":"L1","k":2.5,"f":1.75},{"s":"5","b":"L1","k":2.6,"f":2.94},{"s":"5","b":"L1","k":2.7,"f":3.4},{"s":"5","b":"L1","k":2.8,"f":3.45},{"s":"5","b":"L1","k":2.9,"f":3.4},{"s":"5","b":"L1","k":3,"f":3.35},{"s":"5","b":"L1","k":3.1,"f":3.3},{"s":"5","b":"L1","k":3.2,"f":3.28},{"s":"5","b":"L1","k":3.28,"f":3.27},
{"s":"5","b":"L2","k":0,"f":0},{"s":"5","b":"L2","k":0.1,"f":1.2},{"s":"5","b":"L2","k":0.2,"f":1.96},{"s":"5","b":"L2","k":0.3,"f":2.4},{"s":"5","b":"L2","k":0.4,"f":2.62},{"s":"5","b":"L2","k":0.5,"f":2.73},{"s":"5","b":"L2","k":0.6,"f":2.68},{"s":"5","b":"L2","k":0.707,"f":2.62},{"s":"5","b":"L2","k":0.8,"f":2.55},{"s":"5","b":"L2","k":0.9,"f":2.4},{"s":"5","b":"L2","k":1,"f":2.15},{"s":"5","b":"L2","k":1.1,"f":1.2},{"s":"5","b":"L2","k":1.207,"f":-0.85},{"s":"5","b":"L2","k":1.3,"f":0.76},{"s":"5","b":"L2","k":1.4,"f":2.4},{"s":"5","b":"L2","k":1.5,"f":3.7},{"s":"5","b":"L2","k":1.6,"f":4.7},{"s":"5","b":"L2","k":1.7,"f":5.5},{"s":"5","b":"L2","k":1.8,"f":6},{"s":"5","b":"L2","k":1.914,"f":6.2},{"s":"5","b":"L2","k":2,"f":6},{"s":"5","b":"L2","k":2.1,"f":5.4},{"s":"5","b":"L2","k":2.2,"f":4.6},{"s":"5","b":"L2","k":2.3,"f":4},{"s":"5","b":"L2","k":2.414,"f":3.71},{"s":"5","b":"L2","k":2.5,"f":3.7},{"s":"5","b":"L2","k":2.6,"f":3.65},{"s":"5","b":"L2","k":2.7,"f":3.55},{"s":"5","b":"L2","k":2.8,"f":3.45},{"s":"5","b":"L2","k":2.9,"f":3.38},{"s":"5","b":"L2","k":3,"f":3.32},{"s":"5","b":"L2","k":3.1,"f":3.3},{"s":"5","b":"L2","k":3.2,"f":3.28},{"s":"5","b":"L2","k":3.28,"f":3.27},
{"s":"5","b":"L3","k":0,"f":0},{"s":"5","b":"L3","k":0.1,"f":1},{"s":"5","b":"L3","k":0.2,"f":1.75},{"s":"5","b":"L3","k":0.3,"f":2.2},{"s":"5","b":"L3","k":0.4,"f":2.45},{"s":"5","b":"L3","k":0.5,"f":2.58},{"s":"5","b":"L3","k":0.6,"f":2.62},{"s":"5","b":"L3","k":0.707,"f":2.62},{"s":"5","b":"L3","k":0.8,"f":2.55},{"s":"5","b":"L3","k":0.9,"f":2.45},{"s":"5","b":"L3","k":1,"f":2.3},{"s":"5","b":"L3","k":1.1,"f":1.5},{"s":"5","b":"L3","k":1.207,"f":-0.85},{"s":"5","b":"L3","k":1.3,"f":0.9},{"s":"5","b":"L3","k":1.4,"f":2.1},{"s":"5","b":"L3","k":1.5,"f":3},{"s":"5","b":"L3","k":1.6,"f":3.6},{"s":"5","b":"L3","k":1.7,"f":3.9},{"s":"5","b":"L3","k":1.8,"f":4},{"s":"5","b":"L3","k":1.914,"f":4.04},{"s":"5","b":"L3","k":2,"f":4},{"s":"5","b":"L3","k":2.1,"f":3.95},{"s":"5","b":"L3","k":2.2,"f":3.85},{"s":"5","b":"L3","k":2.3,"f":3.77},{"s":"5","b":"L3","k":2.414,"f":3.71},{"s":"5","b":"L3","k":2.5,"f":3.7},{"s":"5","b":"L3","k":2.6,"f":3.65},{"s":"5","b":"L3","k":2.7,"f":3.55},{"s":"5","b":"L3","k":2.8,"f":3.4},{"s":"5","b":"L3","k":2.9,"f":3.15},{"s":"5","b":"L3","k":3,"f":2.7},{"s":"5","b":"L3","k":3.1,"f":2},{"s":"5","b":"L3","k":3.2,"f":0.9},{"s":"5","b":"L3","k":3.28,"f":-0.85}
]},
"mark":{"type":"line","interpolate":"monotone","strokeWidth":2.5},
"encoding":{
"x":{"field":"k","type":"quantitative","scale":{"domain":[0,3.28],"nice":false,"zero":false},
"axis":{"title":"Wavevector","values":[0,0.707,1.207,1.914,2.414,3.28],"labelExpr":"datum.value < 0.3 ? 'Γ' : datum.value < 1 ? 'M' : datum.value < 1.5 ? 'R' : datum.value < 2 ? 'X' : datum.value < 3 ? 'Γ' : 'R'","ticks":false,"domain":false,"grid":false,"labelFontSize":27,"labelFont":"Open Sans","labelColor":"#222","labelPadding":3,"labelFlush":false,"labelOverlap":false,"labelBound":false,"titleFontSize":28,"titleFont":"Open Sans","titleFontWeight":"normal","titleColor":"#222","titlePadding":8}},
"y":{"field":"f","type":"quantitative","scale":{"domain":[-2.05,23],"nice":false,"zero":false},
"axis":{"title":"Frequency (THz)","values":[0,3,6,9,12,15,18,21],"labelExpr":"datum.value % 6 == 0 ? datum.label : ''","tickSize":-6,"tickColor":"#555","tickWidth":1.2,"domain":false,"grid":false,"labelFontSize":28,"labelFont":"Open Sans","labelColor":"#222","labelPadding":15,"titleFontSize":28,"titleFont":"Open Sans","titleFontWeight":"normal","titleColor":"#222","titlePadding":0}},
"color":{"field":"s","type":"nominal","scale":{"domain":["2","3","4","5"],"range":["#35f29c","#2bb8b0","#3f7ee6","#2222ee"]},
"legend":{"title":"Supercell Size","orient":"none","legendX":404,"legendY":96,"labelExpr":"datum.label + ' x ' + datum.label + ' x ' + datum.label","symbolType":"M-1,0H5","symbolSize":441,"symbolStrokeWidth":2.5,"labelOffset":64,"rowPadding":16,"titlePadding":10,"titleFontSize":27,"labelFontSize":27,"titleFont":"Open Sans","labelFont":"Open Sans","titleFontWeight":"normal","titleColor":"#222","labelColor":"#222","titleAnchor":"middle"}},
"detail":{"field":"b","type":"nominal"}}}
]
}
